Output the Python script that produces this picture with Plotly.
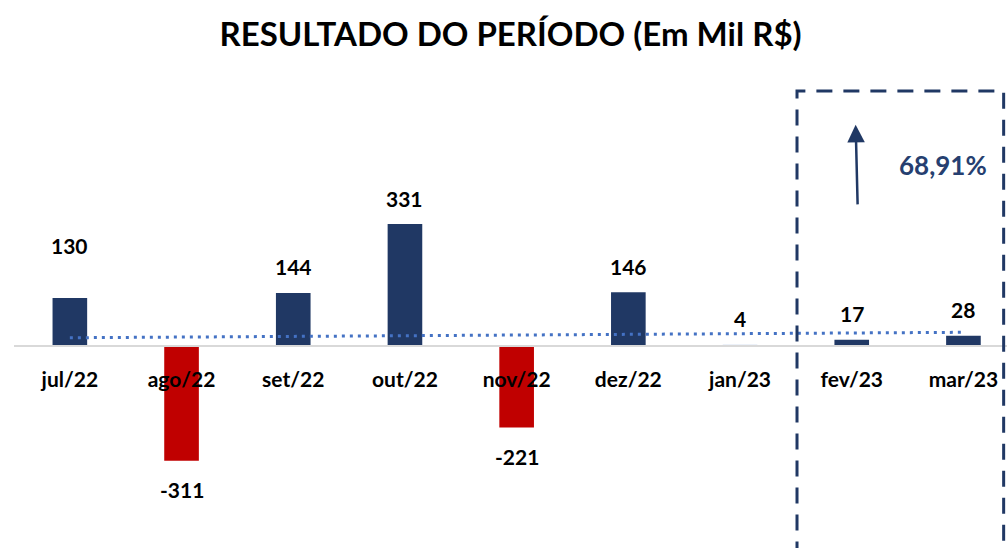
import numpy as np
import plotly.graph_objects as go

# ---- data ----
categories = ["jul/22", "ago/22", "set/22", "out/22", "nov/22", "dez/22", "jan/23", "fev/23", "mar/23"]
values = [130, -311, 144, 331, -221, 146, 4, 17, 28]
highlight_text = "68,91%"
title_text = "RESULTADO DO PERÍODO (Em Mil R$)"

# ---- styles ----
NAVY = "#203864"
RED = "#C00000"
LIGHT = "#DAE3F3"
FONT = "Lato"

def bar_color(cat, v):
    if cat == "jan/23":
        return LIGHT
    return NAVY if v >= 0 else RED

colors = [bar_color(c, v) for c, v in zip(categories, values)]
label_offset = {"jul/22": 53}

idx = np.arange(len(values))
slope, intercept = np.polyfit(idx, values, 1)
trend = slope * idx + intercept

fig = go.Figure()
fig.add_trace(go.Bar(
    x=categories, y=values, marker=dict(color=colors, line=dict(width=0)),
    width=0.31, hoverinfo="skip", showlegend=False,
))
fig.add_trace(go.Scatter(
    x=categories, y=trend, mode="lines",
    line=dict(color="#4472C4", width=3, dash="3px,5px"),
    hoverinfo="skip", showlegend=False,
))

annotations = []
for c, v in zip(categories, values):
    off = label_offset.get(c, 26 if v >= 0 else -29)
    annotations.append(dict(
        x=c, y=v, xref="x", yref="y", text=f"<b>{v}</b>", showarrow=False,
        yanchor="middle", yshift=off,
        font=dict(family=FONT, size=21, color="#000000"),
    ))

# arrow
annotations.append(dict(
    x=7.035, y=600, xref="x", yref="y", ax=2, ay=81, axref="pixel", ayref="pixel",
    showarrow=True, arrowhead=2, arrowsize=1.4, arrowwidth=2.5, arrowcolor=NAVY, text="",
))
annotations.append(dict(
    x=7.816, y=491, xref="x", yref="y", text=f"<b>{highlight_text}</b>", showarrow=False,
    font=dict(family=FONT, size=26, color="#263F70"),
))

fig.update_layout(
    width=1007, height=548,
    margin=dict(l=14, r=0, t=70, b=0),
    paper_bgcolor="white", plot_bgcolor="white",
    title=dict(text=f"<b>{title_text}</b>", x=0.507, xanchor="center", y=0.938, yanchor="middle",
               font=dict(family=FONT, size=33, color="#000000")),
    xaxis=dict(
        type="category", range=[-0.5, 8.39], anchor="free", position=202 / 478,
        showline=True, linecolor="#D9D9D9", linewidth=2, ticks="", showgrid=False,
        tickfont=dict(family=FONT, size=21, color="#000000"), ticklabelstandoff=15,
        tickprefix="<b>", ticksuffix="</b>",
    ),
    yaxis=dict(range=[-548, 748.8], visible=False, showgrid=False, zeroline=False),
    annotations=annotations,
    shapes=[dict(
        type="rect", xref="x", yref="y", x0=6.51, x1=8.36, y0=-700, y1=692,
        line=dict(color=NAVY, width=3, dash="16px,11px"), fillcolor="rgba(0,0,0,0)",
    )],
)

fig.write_html(
    "out.html",
    config={"displayModeBar": False},
    post_script="document.body.style.margin='0';document.body.style.overflow='hidden';",
)
